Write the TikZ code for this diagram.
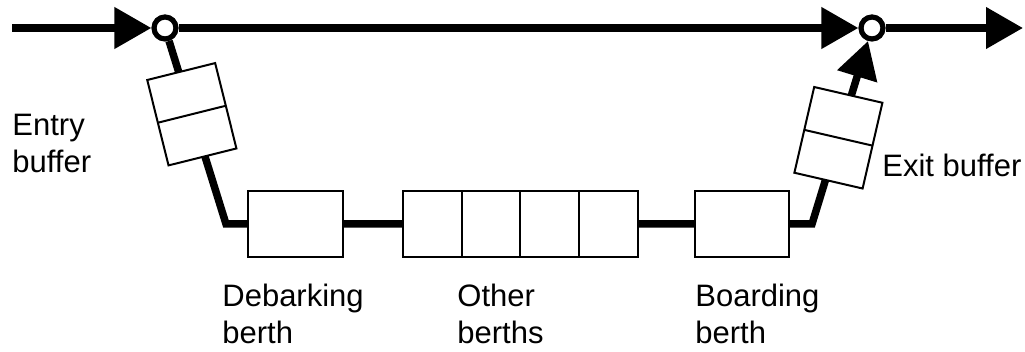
\documentclass[tikz,border=0pt]{standalone}
\usepackage{fontspec}
\setmainfont{Liberation Sans}
\usetikzlibrary{arrows.meta}
\usetikzlibrary{calc}
\tikzset{
	flow/.style={line width=3.75pt},
	flow arrow/.style={flow, -{Triangle[length=18.5pt, width=20pt]}},
	junction/.style={circle, draw, fill=white, line width=2.6pt, inner sep=0pt, minimum size=11pt},
	berth/.style={draw, fill=white, line width=1pt, inner sep=0pt, outer sep=0pt, minimum width=#1, minimum height=33pt},
	buffer/.style={draw, fill=white, line width=1pt, inner sep=0pt, outer sep=0pt, minimum width=35pt, minimum height=44pt, rotate=#1},
	caption/.style={anchor=north west, align=left, inner sep=0pt, font=\fontsize{15.5}{18.5}\selectfont}
}

\begin{document}
\begin{tikzpicture}[x=0.5pt, y=-0.5pt]
	\useasboundingbox (0,0) rectangle (1025,352);
	\coordinate (src) at (12,28);
	\coordinate (sink) at (1023,28);
	\node[junction] (ein) at (165,28) {};
	\node[junction] (eout) at (872,28) {};
	\coordinate (dcorner) at (226,224);
	\coordinate (xcorner) at (812,224);
	\node[buffer=14] (inbuf) at ($(ein)!0.44!(dcorner)$) {};
	\node[buffer=-13] (outbuf) at ($(xcorner)!0.44!(eout)$) {};
	\node[berth=47.5pt] (debark) at (295.5,224) {};
	\foreach \i in {1,...,4}
		\node[berth=29.4pt] (oth\i) at (403+58.75*\i-29.375,224) {};
	\node[berth=47pt] (board) at (742,224) {};
	\draw[flow arrow] (src) -- (ein);
	\draw[flow arrow] (ein) -- (eout);
	\draw[flow arrow] (eout) -- (sink);
	\draw[flow] (ein) -- (inbuf) -- (dcorner) -- (debark) -- (oth1);
	\draw[flow] (oth4) -- (board) -- (xcorner) -- (outbuf);
	\draw[flow arrow] (outbuf) -- (eout);
	\draw[line width=1pt] (inbuf.west) -- (inbuf.east) (outbuf.west) -- (outbuf.east);
	\node[caption] (entrylbl) at (12,114) {Entry\\buffer};
	\node[caption] (debarklbl) at (222,284) {Debarking\\berth};
	\node[caption] (otherlbl) at (457,284) {Other\\berths};
	\node[caption] (boardlbl) at (695,284) {Boarding\\berth};
	\node[caption] (exitlbl) at (882,154) {Exit buffer};
\end{tikzpicture}
\end{document}
